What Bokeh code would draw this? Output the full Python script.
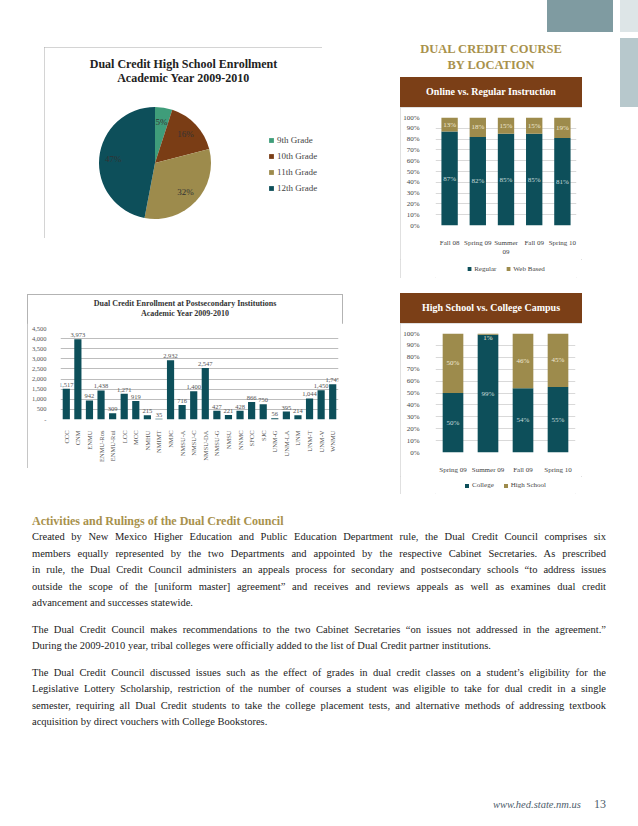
import math
from bokeh.plotting import figure
from bokeh.models import (ColumnDataSource, Legend, LegendItem, Label, FixedTicker,
                          NumeralTickFormatter, PrintfTickFormatter, Div, Spacer,
                          FactorRange, Range1d)
from bokeh.layouts import row, column
from bokeh.embed import file_html
from bokeh.resources import INLINE
from bokeh.core.properties import value

SERIF = "Liberation Serif"
TEAL = "#0d4f5a"
OLIVE = "#9d8b4c"
BROWN = "#7a3d15"
GREEN = "#3f9d7a"
GOLD = "#a8914c"
BANNER = "#7b3f17"

# ---------------- data ----------------
grades = ["9th Grade", "10th Grade", "11th Grade", "12th Grade"]
grade_share = [5, 16, 32, 47]
grade_colors = [GREEN, BROWN, OLIVE, TEAL]

institutions = ["CCC", "CNM", "ENMU", "ENMU-Ros", "ENMU-Rui", "LCC", "MCC", "NMHU",
                "NMIMT", "NMJC", "NMSU-A", "NMSU-C", "NMSU-DA", "NMSU-G", "NMSU",
                "NNMC", "SFCC", "SJC", "UNM-G", "UNM-LA", "UNM", "UNM-T", "UNM-V", "WNMU"]
enrollment = [1517, 3973, 942, 1438, 309, 1271, 919, 215, 35, 2932, 716, 1400, 2547,
              427, 221, 428, 866, 750, 56, 395, 214, 1044, 1450, 1747]
enroll_ticks = [0, 500, 1000, 1500, 2000, 2500, 3000, 3500, 4000, 4500]

terms_online = ["Fall 08", "Spring 09", "Summer\n09", "Fall 09", "Spring 10"]
regular_pct = [87, 82, 85, 85, 81]
web_pct = [13, 18, 15, 15, 19]

terms_campus = ["Spring 09", "Summer 09", "Fall 09", "Spring 10"]
college_pct = [50, 99, 54, 55]
highschool_pct = [50, 1, 46, 45]
pct_ticks = [0, 10, 20, 30, 40, 50, 60, 70, 80, 90, 100]


def box_style(color):
    return {"outline": f"1px solid {color}", "outline-offset": "-1px"}


# ---------------- pie chart ----------------
PW, PH = 278, 191
pie = figure(width=PW, height=PH, x_range=Range1d(0, PW), y_range=Range1d(0, PH),
             x_axis_location=None, y_axis_location=None, toolbar_location=None,
             output_backend="svg", min_border=0, outline_line_color=None,
             styles=box_style("#a9a9a9"))
pie.xgrid.visible = False
pie.ygrid.visible = False

cx, cy, rad = 110.5, 75.5, 56
starts, ends, lx, ly, lbl = [], [], [], [], []
cum = 0
for v in grade_share:
    a0 = math.pi / 2 - 2 * math.pi * cum / 100
    a1 = math.pi / 2 - 2 * math.pi * (cum + v) / 100
    mid = (a0 + a1) / 2
    starts.append(a0)
    ends.append(a1)
    lx.append(cx + 0.75 * rad * math.cos(mid))
    ly.append(cy + 0.75 * rad * math.sin(mid))
    lbl.append(f"{v}%")
    cum += v
psrc = ColumnDataSource(dict(start=starts, end=ends, color=grade_colors, lx=lx, ly=ly, lbl=lbl))
wr = pie.wedge(x=cx, y=cy, radius=rad, start_angle="start", end_angle="end",
               direction="clock", fill_color="color", line_color=None, source=psrc)
pie.text(x="lx", y="ly", text="lbl", source=psrc, text_align="center",
         text_baseline="middle", text_font=value(SERIF), text_font_size="9px",
         text_color="#333333")
pie_leg = Legend(items=[LegendItem(label=g, renderers=[wr], index=i) for i, g in enumerate(grades)],
                 location=(224, 45), glyph_width=6, glyph_height=6, label_text_font=SERIF,
                 label_text_font_size="9px", label_text_color="#444444", label_height=11,
                 spacing=5, padding=0, margin=0, border_line_color=None,
                 background_fill_alpha=0, label_standoff=3)
pie.add_layout(pie_leg)
pie.add_layout(Label(x=139, y=174.5, text="Dual Credit High School Enrollment",
                     text_align="center", text_baseline="middle", text_font=SERIF,
                     text_font_size="12px", text_font_style="bold", text_color="#222222"))
pie.add_layout(Label(x=139, y=160.5, text="Academic Year 2009-2010",
                     text_align="center", text_baseline="middle", text_font=SERIF,
                     text_font_size="12px", text_font_style="bold", text_color="#222222"))

# ---------------- bar chart ----------------
bar_title = Div(text=(f"<div style=\"width:316px;padding-top:5px;text-align:center;font-family:'{SERIF}';"
                      "font-weight:bold;font-size:8px;line-height:10px;color:#333333;\">"
                      "Dual Credit Enrollment at Postsecondary Institutions<br>"
                      "Academic Year 2009-2010</div>"), width=316, height=29, margin=0)
bar = figure(x_range=FactorRange(factors=institutions, range_padding=0),
             y_range=Range1d(0, 4500), width=316, height=145, toolbar_location=None,
             output_backend="svg", min_border_left=33, min_border_right=5,
             min_border_top=5, min_border_bottom=49, outline_line_color=None)
bsrc = ColumnDataSource(dict(inst=institutions, val=enrollment,
                             lbl=[f"{v:,}" for v in enrollment]))
bar.vbar(x="inst", top="val", width=0.62, fill_color=TEAL, line_color=None, source=bsrc)
bar.text(x="inst", y="val", text="lbl", source=bsrc, text_align="center",
         text_baseline="bottom", y_offset=-2, text_font=value(SERIF),
         text_font_size="6.5px", text_color="#555555")
bar.yaxis.ticker = FixedTicker(ticks=enroll_ticks)
bar.yaxis.formatter = NumeralTickFormatter(format="0,0")
bar.yaxis.major_label_overrides = {0: "-"}
bar.ygrid.ticker = FixedTicker(ticks=enroll_ticks)
bar.ygrid.grid_line_color = "#bdbdbd"
bar.xgrid.visible = False
for ax in (bar.xaxis, bar.yaxis):
    ax.major_tick_line_color = None
    ax.minor_tick_line_color = None
    ax.axis_line_color = None
    ax.major_label_text_font = SERIF
    ax.major_label_text_font_size = "6.5px"
    ax.major_label_text_color = "#555555"
bar.yaxis.major_label_standoff = 8
bar.xaxis.major_label_standoff = 5
bar.xaxis.major_label_orientation = math.pi / 2
bar_box = column(bar_title, bar, styles=box_style("#b3b3b3"))


# ---------------- stacked percent charts ----------------
def stacked(terms, lower, upper, names, width, height, borders, bar_w, leg_h):
    bl, br, bt, bb = borders
    f = figure(x_range=FactorRange(factors=terms, range_padding=0), y_range=Range1d(0, 100),
               width=width, height=height, toolbar_location=None, output_backend="svg",
               min_border_left=bl, min_border_right=br, min_border_top=bt,
               min_border_bottom=bb, outline_line_color=None)
    src = ColumnDataSource(dict(term=terms, lo=lower, hi=upper,
                                lo_mid=[a / 2 for a in lower],
                                hi_mid=[min(a + b / 2, 96) for a, b in zip(lower, upper)],
                                lo_lbl=[f"{a}%" for a in lower],
                                hi_lbl=[f"{b}%" for b in upper]))
    f.vbar_stack(["lo", "hi"], x="term", width=bar_w, fill_color=[TEAL, OLIVE],
                 line_color=None, source=src)
    f.text(x="term", y="lo_mid", text="lo_lbl", source=src, text_align="center",
           text_baseline="middle", text_font=value(SERIF), text_font_size="7px",
           text_color="#c9dcdc")
    f.text(x="term", y="hi_mid", text="hi_lbl", source=src, text_align="center",
           text_baseline="middle", text_font=value(SERIF), text_font_size="7px",
           text_color="#f0ead6")
    f.yaxis.ticker = FixedTicker(ticks=pct_ticks)
    f.yaxis.formatter = PrintfTickFormatter(format="%d%%")
    f.ygrid.ticker = FixedTicker(ticks=pct_ticks)
    f.ygrid.grid_line_color = "#d9d9d9"
    f.xgrid.visible = False
    for ax in (f.xaxis, f.yaxis):
        ax.major_tick_line_color = None
        ax.minor_tick_line_color = None
        ax.axis_line_color = None
        ax.major_label_text_font = SERIF
        ax.major_label_text_font_size = "7px"
        ax.major_label_text_color = "#444444"
    f.yaxis.major_label_standoff = 10
    f.xaxis.major_label_standoff = 7

    # legend strip underneath, in its own small plot sharing the chart's ranges
    lf = figure(width=width, height=leg_h, x_range=f.x_range, y_range=f.y_range,
                x_axis_location=None, y_axis_location=None, toolbar_location=None,
                output_backend="svg", min_border=0, outline_line_color=None)
    lf.xgrid.visible = False
    lf.ygrid.visible = False
    lr = lf.vbar_stack(["lo", "hi"], x="term", width=bar_w, fill_color=[TEAL, OLIVE],
                       line_color=None, source=src)
    for r in lr:
        r.visible = False
    leg = Legend(items=[LegendItem(label=names[0], renderers=[lr[0]]),
                        LegendItem(label=names[1], renderers=[lr[1]])],
                 location="center", orientation="horizontal", glyph_width=5, glyph_height=5,
                 label_text_font=SERIF, label_text_font_size="7px",
                 label_text_color="#444444", label_height=8, spacing=9, padding=0,
                 margin=0, border_line_color=None, background_fill_alpha=0,
                 label_standoff=3, inactive_fill_alpha=0, click_policy="none")
    lf.add_layout(leg)
    return column(f, lf, styles=box_style("#d6d6d6"))


online = stacked(terms_online, regular_pct, web_pct, ["Regular", "Web Based"],
                 182, 152, (28, 6, 10, 27), 0.58, 19)
campus = stacked(terms_campus, college_pct, highschool_pct, ["College", "High School"],
                 182, 153, (29, 7, 10, 21), 0.59, 18)


# ---------------- html pieces ----------------
def banner(text):
    return Div(text=(f'<div style="width:182px;height:30px;background:{BANNER};color:#ffffff;'
                     f'display:flex;align-items:center;justify-content:center;'
                     f"font-family:'{SERIF}';font-weight:bold;font-size:10px;\">{text}</div>"),
               width=182, height=30, margin=0)


title_div = Div(text=(
    '<div style="position:relative;width:238px;height:77px;">'
    '<div style="position:absolute;left:147px;top:0px;width:66px;height:32px;background:#7f9ba1;"></div>'
    '<div style="position:absolute;left:220px;top:0px;width:18px;height:32px;background:#dde5e7;"></div>'
    '<div style="position:absolute;left:220px;top:38px;width:18px;height:39px;background:#b7c8cc;"></div>'
    f'<div style="position:absolute;left:0px;top:41px;width:182px;text-align:center;'
    f"font-family:'{SERIF}';font-weight:bold;font-size:12.5px;line-height:16px;color:{GOLD};\">"
    'DUAL CREDIT COURSE<br>BY LOCATION</div></div>'), width=238, height=77, margin=0)

strip = Div(text='<div style="width:18px;height:30px;background:#b7c8cc;"></div>',
            width=18, height=30, margin=0)

paragraphs = [
    ["Created by New Mexico Higher Education and Public Education Department rule, the Dual Credit Council comprises six",
     "members equally represented by the two Departments and appointed by the respective Cabinet Secretaries. As prescribed",
     "in rule, the Dual Credit Council administers an appeals process for secondary and postsecondary schools \u201cto address issues",
     "outside the scope of the [uniform master] agreement\u201d and receives and reviews appeals as well as examines dual credit",
     "advancement and successes statewide."],
    ["The Dual Credit Council makes recommendations to the two Cabinet Secretaries \u201con issues not addressed in the agreement.\u201d",
     "During the 2009-2010 year, tribal colleges were officially added to the list of Dual Credit partner institutions."],
    ["The Dual Credit Council discussed issues such as the effect of grades in dual credit classes on a student\u2019s eligibility for the",
     "Legislative Lottery Scholarship, restriction of the number of courses a student was eligible to take for dual credit in a single",
     "semester, requiring all Dual Credit students to take the college placement tests, and alternative methods of addressing textbook",
     "acquisition by direct vouchers with College Bookstores."],
]
html = [f"<div style=\"font-family:'{SERIF}';color:#222222;width:574px;\">",
        f'<div style="margin-top:17px;height:16px;line-height:16px;font-size:12px;font-weight:bold;color:{GOLD};">'
        'Activities and Rulings of the Dual Credit Council</div>']
for para in paragraphs:
    html.append('<div style="margin-bottom:10px;font-size:10.5px;line-height:16.5px;">')
    for i, line in enumerate(para):
        al = "left" if i == len(para) - 1 else "justify"
        html.append(f'<div style="text-align:{al};text-align-last:{al};">{line}</div>')
    html.append("</div>")
html.append("</div>")
text_div = Div(text="".join(html), width=574, height=245, margin=0)

footer = Div(text=(f"<div style=\"font-family:'{SERIF}';color:#4e5d6c;height:26px;line-height:26px;"
                   f"padding-left:8px;white-space:nowrap;\">"
                   '<span style="font-style:italic;font-size:10.5px;">www.hed.state.nm.us</span>'
                   '<span style="font-size:12px;margin-left:13px;">13</span></div>'),
             width=137, height=26, margin=0)

# ---------------- layout ----------------
right_a = column(title_div,
                 row(banner("Online vs. Regular Instruction"), Spacer(width=38, height=30), strip),
                 online, Spacer(width=10, height=15))
row_a = row(Spacer(width=44, height=10), column(Spacer(width=10, height=47), pie),
            Spacer(width=78, height=10), right_a)
row_b = row(Spacer(width=27, height=10), column(Spacer(width=10, height=1), bar_box),
            Spacer(width=57, height=10), column(banner("High School vs. College Campus"), campus))
row_c = row(Spacer(width=32, height=10), text_div)
row_d = row(Spacer(width=485, height=10), footer)
page = column(row_a, row_b, Spacer(width=10, height=2), row_c, Spacer(width=10, height=50), row_d)

open("out.html", "w").write(file_html(page, INLINE))
